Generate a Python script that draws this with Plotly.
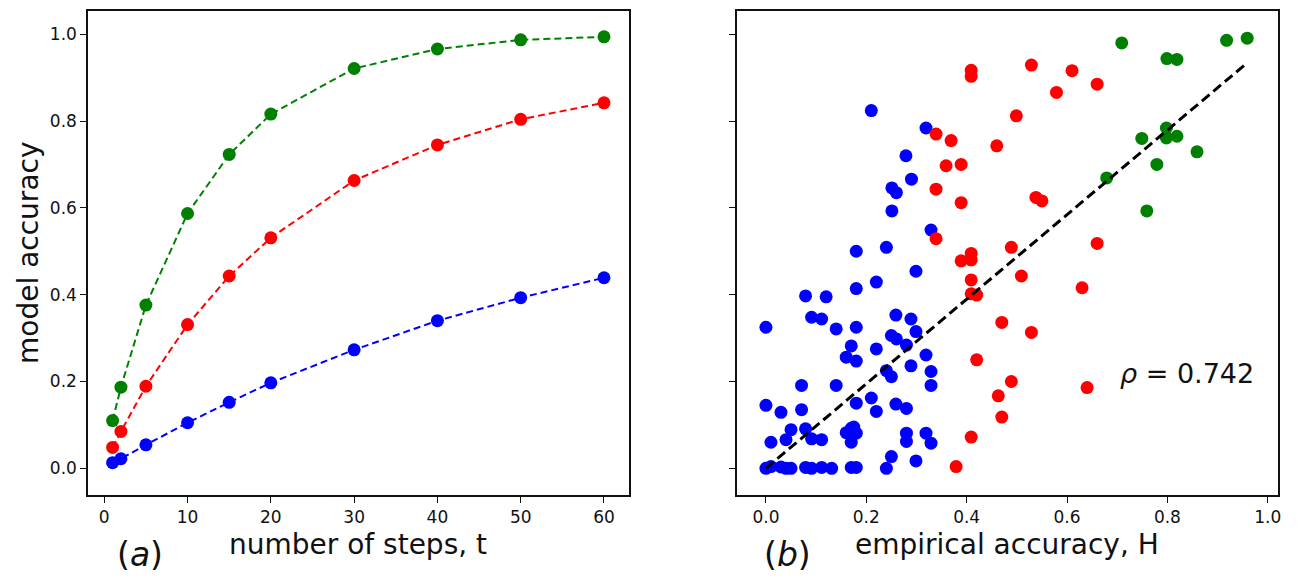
import plotly.graph_objects as go

# ---------------- data: panel (a) ----------------
steps = [1, 2, 5, 10, 15, 20, 30, 40, 50, 60]
acc_green = [0.110, 0.187, 0.376, 0.587, 0.723, 0.816, 0.921, 0.966, 0.987, 0.994]
acc_red = [0.048, 0.085, 0.189, 0.331, 0.443, 0.531, 0.663, 0.745, 0.804, 0.842]
acc_blue = [0.013, 0.022, 0.054, 0.105, 0.152, 0.197, 0.273, 0.340, 0.393, 0.439]

# ---------------- data: panel (b) ----------------
blue_h = [0.21, 0.319, 0.279, 0.29, 0.251, 0.26, 0.251, 0.329, 0.18, 0.24,
          0.299, 0.18, 0.22, 0.079, 0.12, 0.091, 0.111, 0.0, 0.14, 0.18,
          0.259, 0.289, 0.299, 0.25, 0.26, 0.28, 0.17, 0.22, 0.319, 0.16,
          0.18, 0.289, 0.24, 0.329, 0.25, 0.329, 0.071, 0.14, 0.0, 0.03,
          0.071, 0.18, 0.21, 0.22, 0.259, 0.28, 0.05, 0.079, 0.04, 0.01,
          0.091, 0.111, 0.16, 0.17, 0.18, 0.17, 0.175, 0.28, 0.28, 0.319,
          0.329, 0.25, 0.299,
          0.0, 0.01, 0.03, 0.04, 0.05, 0.079, 0.091, 0.111, 0.131, 0.17, 0.18, 0.24]
blue_acc = [0.824, 0.784, 0.72, 0.666, 0.646, 0.635, 0.593, 0.549, 0.5, 0.509,
            0.454, 0.414, 0.429, 0.397, 0.395, 0.348, 0.344, 0.325, 0.321, 0.325,
            0.353, 0.344, 0.315, 0.306, 0.298, 0.284, 0.282, 0.275, 0.261, 0.256,
            0.247, 0.236, 0.225, 0.223, 0.211, 0.191, 0.191, 0.191, 0.145, 0.129,
            0.135, 0.15, 0.162, 0.131, 0.148, 0.138, 0.089, 0.091, 0.066, 0.06,
            0.068, 0.066, 0.082, 0.092, 0.081, 0.06, 0.095, 0.081, 0.062, 0.081,
            0.058, 0.027, 0.017,
            0.0, 0.004, 0.003, 0.0, 0.0, 0.002, 0.0, 0.002, 0.0, 0.002, 0.002, 0.0]

red_h = [0.409, 0.409, 0.339, 0.369, 0.46, 0.359, 0.389, 0.339, 0.389, 0.339,
         0.529, 0.61, 0.579, 0.66, 0.499, 0.538, 0.55, 0.489, 0.66,
         0.509, 0.63, 0.47, 0.529, 0.489, 0.463, 0.47, 0.64,
         0.409, 0.389, 0.409, 0.409, 0.409, 0.42, 0.42, 0.409, 0.379]
red_acc = [0.917, 0.903, 0.77, 0.755, 0.743, 0.697, 0.7, 0.643, 0.612, 0.529,
           0.929, 0.916, 0.866, 0.885, 0.812, 0.624, 0.616, 0.509, 0.518,
           0.443, 0.416, 0.336, 0.313, 0.2, 0.167, 0.118, 0.186,
           0.495, 0.478, 0.48, 0.434, 0.402, 0.399, 0.25, 0.072, 0.004]

green_h = [0.709, 0.799, 0.819, 0.918, 0.959, 0.798, 0.749, 0.798, 0.819, 0.859,
           0.779, 0.679, 0.759]
green_acc = [0.98, 0.944, 0.942, 0.986, 0.991, 0.784, 0.76, 0.761, 0.765, 0.729,
             0.7, 0.669, 0.593]

fit_h = [0.0, 0.96]
fit_acc = [0.0, 0.935]

rho_text = "<i>ρ</i> = 0.742"

# ---------------- figure ----------------
W, H = 1298, 577
FONT = "DejaVu Sans, sans-serif"
C_GREEN, C_RED, C_BLUE = "#008000", "#ff0000", "#0000ff"

fig = go.Figure()

for ys, col in [(acc_blue, C_BLUE), (acc_red, C_RED), (acc_green, C_GREEN)]:
    fig.add_trace(go.Scatter(
        x=steps, y=ys, mode="lines+markers", xaxis="x", yaxis="y",
        line=dict(color=col, width=2, dash="7px,4px"),
        marker=dict(color=col, size=13), showlegend=False))

for xs, ys, col in [(blue_h, blue_acc, C_BLUE), (red_h, red_acc, C_RED),
                    (green_h, green_acc, C_GREEN)]:
    fig.add_trace(go.Scatter(
        x=xs, y=ys, mode="markers", xaxis="x2", yaxis="y2",
        marker=dict(color=col, size=13), showlegend=False))

fig.add_trace(go.Scatter(
    x=fit_h, y=fit_acc, mode="lines", xaxis="x2", yaxis="y2",
    line=dict(color="black", width=3, dash="10px,5px"), showlegend=False))


def px_x(p):
    return p / W


def px_y(p):
    return 1 - p / H


axis_common = dict(showline=True, linecolor="#111", linewidth=1.5, mirror=True,
                   ticks="outside", ticklen=6, tickwidth=1.3, tickcolor="#111",
                   showgrid=False, zeroline=False,
                   tickfont=dict(family=FONT, size=17, color="#111"))

fig.update_layout(
    width=W, height=H, margin=dict(l=0, r=0, t=0, b=0),
    paper_bgcolor="white", plot_bgcolor="white",
    xaxis=dict(domain=[px_x(88.3), px_x(630.5)], range=[-1.95, 62.95],
               tickvals=[0, 10, 20, 30, 40, 50, 60], anchor="y", **axis_common),
    yaxis=dict(domain=[px_y(495), px_y(11)], range=[-0.0615, 1.0535],
               tickvals=[0, 0.2, 0.4, 0.6, 0.8, 1.0], tickformat=".1f",
               anchor="x", **axis_common),
    xaxis2=dict(domain=[px_x(739.3), px_x(1281.7)], range=[-0.0576, 1.0199],
                tickvals=[0, 0.2, 0.4, 0.6, 0.8, 1.0], tickformat=".1f",
                anchor="y2", **axis_common),
    yaxis2=dict(domain=[px_y(495), px_y(11)], range=[-0.0615, 1.0535],
                tickvals=[0, 0.2, 0.4, 0.6, 0.8, 1.0], showticklabels=False,
                anchor="x2", **axis_common),
)

ann_font = dict(family=FONT, size=28, color="#111")
annotations = [
    dict(text="number of steps, t", x=px_x(359.4), y=px_y(544)),
    dict(text="empirical accuracy, H", x=px_x(1010.5), y=px_y(544)),
    dict(text="model accuracy", x=px_x(28), y=px_y(253), textangle=-90),
    dict(text="(<i>a</i>)", x=px_x(140), y=px_y(554), size=33),
    dict(text="(<i>b</i>)", x=px_x(790), y=px_y(554), size=33),
]
for a in annotations:
    f = dict(ann_font)
    if "size" in a:
        f["size"] = a.pop("size")
    fig.add_annotation(xref="paper", yref="paper", showarrow=False,
                       xanchor="center", yanchor="middle", font=f, **a)

fig.add_annotation(xref="x2", yref="y2", x=0.839, y=0.218, text=rho_text,
                   showarrow=False, xanchor="center", yanchor="middle",
                   font=dict(family=FONT, size=27, color="#111"))

fig.write_html("out.html",
               config={"displayModeBar": False},
               post_script="document.body.style.margin='0px';"
                           "document.body.style.overflow='hidden';")
